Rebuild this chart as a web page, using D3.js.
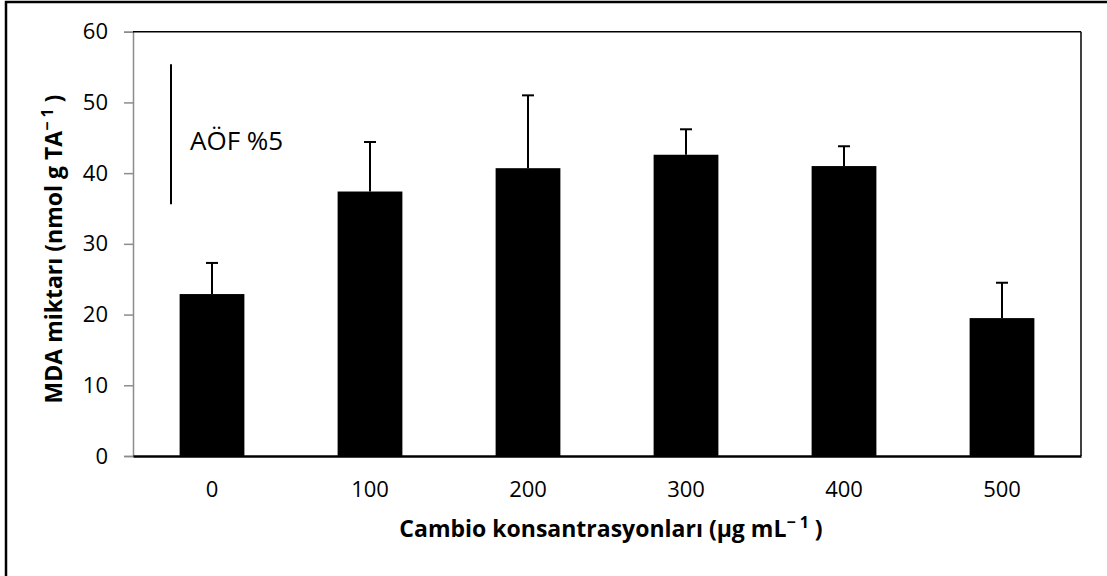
<!DOCTYPE html>
<html>
<head>
<meta charset="utf-8">
<script src="https://cdn.jsdelivr.net/npm/d3@7"></script>
<style>
  html, body { margin: 0; padding: 0; background: #fff; }
  svg { display: block; font-family: "Open Sans", sans-serif; }
</style>
</head>
<body>
<svg id="chart" width="1107" height="576"></svg>
<script>
// MDA bar chart with upper error bars
const categories = ["0", "100", "200", "300", "400", "500"];
const means = [22.9, 37.4, 40.7, 42.6, 41.0, 19.5];
const errTops = [27.3, 44.4, 51.0, 46.2, 43.8, 24.5];
const yTicks = [0, 10, 20, 30, 40, 50, 60];
const sigLine = [35.6, 55.4];   // AÖF %5 bar, low and high
const sigLabel = "AÖF %5";

const svg = d3.select("#chart");
const plotLeft = 133, plotRight = 1081, plotTop = 31.7, plotBottom = 456;

// outer frame (runs off the right and bottom edge)
svg.append("rect")
  .attr("x", 6).attr("y", 2)
  .attr("width", 1120).attr("height", 600)
  .attr("fill", "none").attr("stroke", "#000").attr("stroke-width", 2.5);

const x = d3.scaleBand().domain(categories).range([plotLeft, plotRight]).paddingInner(0.59).paddingOuter(0.295);
const y = d3.scaleLinear().domain([0, 60]).range([plotBottom, plotTop]);

// y axis (gray)
const yAxis = svg.append("g")
  .attr("transform", `translate(${plotLeft},0)`)
  .call(d3.axisLeft(y).tickValues(yTicks).tickSize(9).tickPadding(16));
yAxis.select(".domain").attr("stroke", "#8c8c8c").attr("stroke-width", 1.5);
yAxis.selectAll(".tick line").attr("stroke", "#8c8c8c").attr("stroke-width", 1.5);
yAxis.selectAll("text").attr("font-size", 22).attr("fill", "#000").attr("font-family", "Open Sans");

// frame top + right
svg.append("line").attr("x1", plotLeft).attr("x2", plotRight).attr("y1", plotTop).attr("y2", plotTop)
  .attr("stroke", "#000").attr("stroke-width", 1.5);
svg.append("line").attr("x1", plotRight).attr("x2", plotRight).attr("y1", plotTop).attr("y2", plotBottom)
  .attr("stroke", "#000").attr("stroke-width", 1.5);

// bars
svg.selectAll("rect.bar")
  .data(categories)
  .join("rect")
  .attr("class", "bar")
  .attr("x", d => x(d))
  .attr("width", x.bandwidth())
  .attr("y", (d, i) => y(means[i]))
  .attr("height", (d, i) => plotBottom - y(means[i]))
  .attr("fill", "#000");

// error bars (upper only)
const eb = svg.selectAll("g.err").data(categories).join("g").attr("class", "err");
eb.append("line")
  .attr("x1", d => x(d) + x.bandwidth() / 2).attr("x2", d => x(d) + x.bandwidth() / 2)
  .attr("y1", (d, i) => y(means[i])).attr("y2", (d, i) => y(errTops[i]))
  .attr("stroke", "#000").attr("stroke-width", 2);
eb.append("line")
  .attr("x1", d => x(d) + x.bandwidth() / 2 - 6).attr("x2", d => x(d) + x.bandwidth() / 2 + 6)
  .attr("y1", (d, i) => y(errTops[i])).attr("y2", (d, i) => y(errTops[i]))
  .attr("stroke", "#000").attr("stroke-width", 2);

// x axis
const xAxis = svg.append("g")
  .attr("transform", `translate(0,${plotBottom})`)
  .call(d3.axisBottom(x).tickSize(0).tickPadding(25));
xAxis.select(".domain").attr("stroke", "#000").attr("stroke-width", 2.5);
xAxis.selectAll("text").attr("font-size", 22).attr("fill", "#000").attr("font-family", "Open Sans");

// significance bar
svg.append("line")
  .attr("x1", 171).attr("x2", 171)
  .attr("y1", y(sigLine[0])).attr("y2", y(sigLine[1]))
  .attr("stroke", "#000").attr("stroke-width", 2);
svg.append("text")
  .attr("x", 190).attr("y", 150)
  .attr("font-size", 26)
  .text(sigLabel);

// axis titles
const xt = svg.append("text")
  .attr("x", 611).attr("y", 537)
  .attr("text-anchor", "middle")
  .attr("font-size", 23).attr("font-weight", "bold");
xt.append("tspan").text("Cambio konsantrasyonları (µg mL");
xt.append("tspan").attr("font-size", 16).attr("dy", -9).text("− 1");
xt.append("tspan").attr("dy", 9).text(" )");

const yt = svg.append("text")
  .attr("transform", `translate(62,249) rotate(-90)`)
  .attr("text-anchor", "middle")
  .attr("font-size", 23).attr("font-weight", "bold");
yt.append("tspan").text("MDA miktarı (nmol g TA");
yt.append("tspan").attr("font-size", 16).attr("dy", -9).text("− 1");
yt.append("tspan").attr("dy", 9).text(" )");
</script>
</body>
</html>
